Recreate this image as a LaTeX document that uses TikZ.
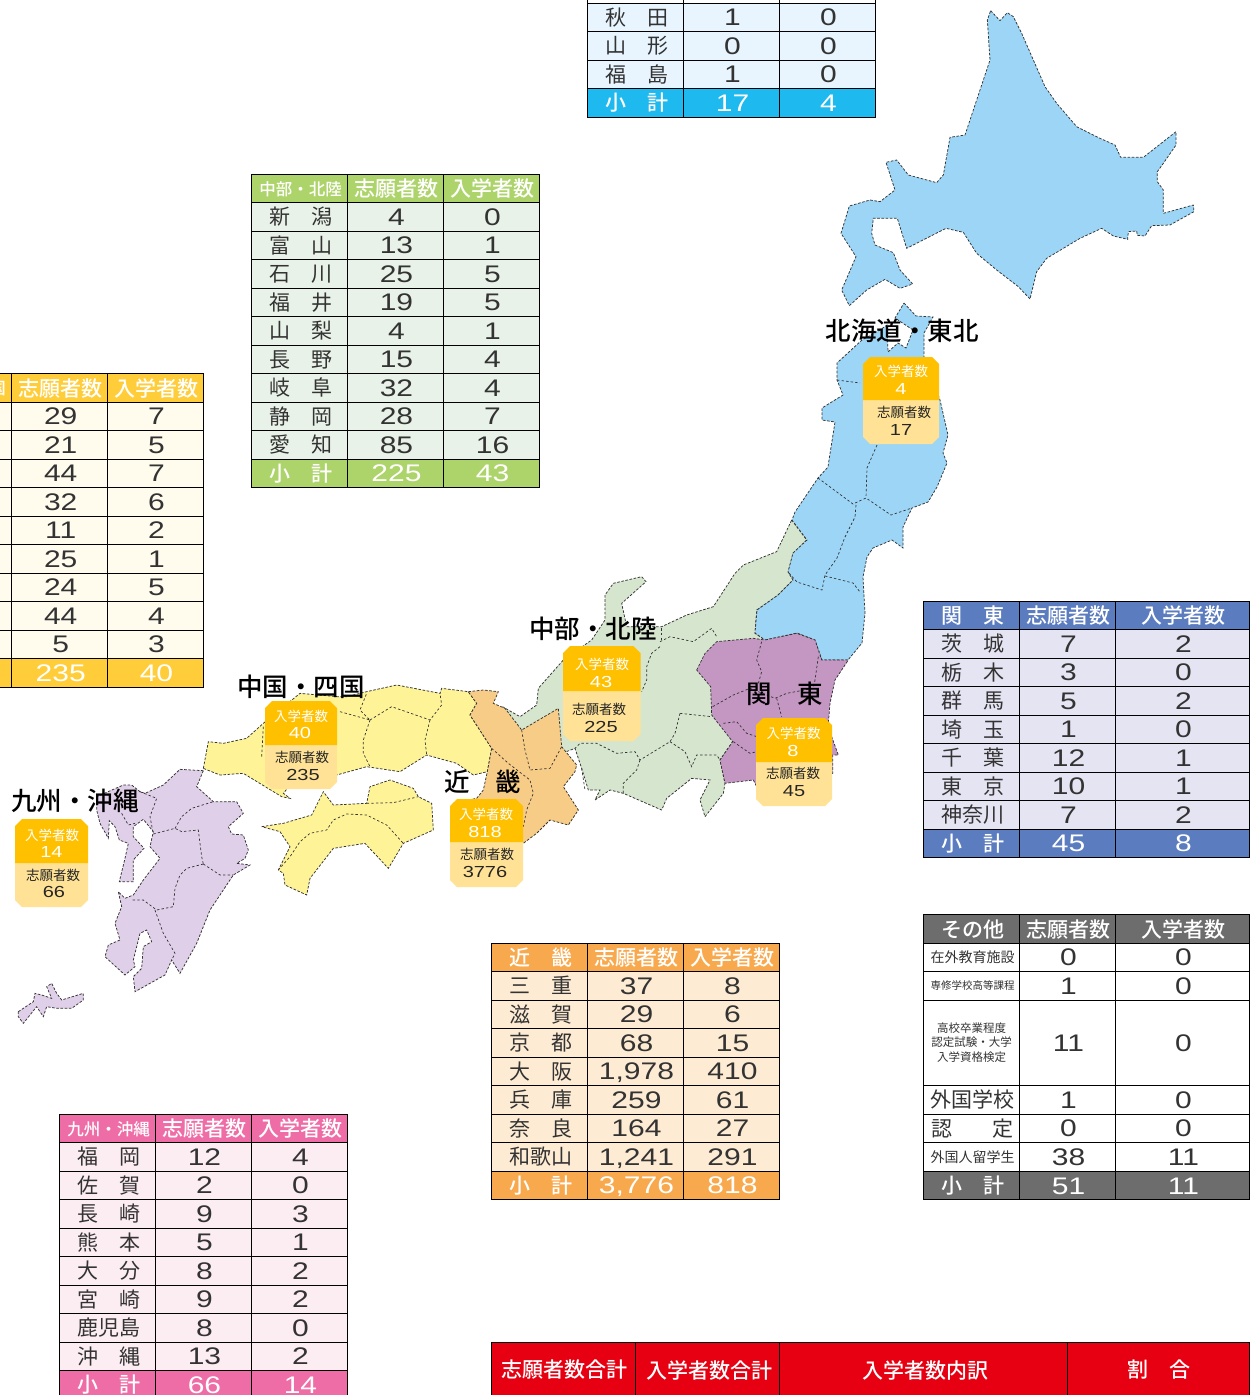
\documentclass[tikz,border=0pt]{standalone}
\usepackage{fontspec}
\setmainfont{Noto Sans CJK JP}
\newfontfamily\jp{Noto Sans CJK JP}
\newfontfamily\jpb[UprightFont={* Medium}]{Noto Sans CJK JP}
\newfontfamily\numf[FakeStretch=1.25]{Liberation Sans}
\newcommand\fs[1]{\fontsize{#1}{#1}\selectfont}
\definecolor{inkc}{HTML}{333333}
\definecolor{hokkc}{HTML}{9CD5F6}
\definecolor{chubc}{HTML}{D6E5CD}
\definecolor{kantc}{HTML}{C497C3}
\definecolor{kinkc}{HTML}{F7CC87}
\definecolor{chugc}{HTML}{FEF497}
\definecolor{kyusc}{HTML}{E0CFE8}
\definecolor{badgeT}{HTML}{FFC000}
\definecolor{badgeB}{HTML}{FFE295}
\definecolor{redc}{HTML}{E60012}
\tikzset{
  pref/.style={draw=black!80,line width=.75pt,dash pattern=on 2.6pt off 1.6pt},
  inner/.style={draw=black!80,line width=.7pt,dash pattern=on 2.4pt off 2.2pt},
  zone/.style={pref,fill=#1},
  zoomA/.style={shift={(780,0)},x=.33333pt,y=-.33333pt},
  zoomB/.style={shift={(520,440)},x=.33333pt,y=-.33333pt},
  zoomC/.style={shift={(200,660)},x=.33333pt,y=-.33333pt},
  zoomD/.style={shift={(0,760)},x=.33333pt,y=-.33333pt},
  grid/.style={draw=black,line width=.9pt},
  celltxt/.style={inner sep=0pt,anchor=center,xshift=1.5pt},
  labb/.style={celltxt,text=inkc,font=\jp\fs{21},text height=18.4pt,text depth=2.6pt},
  labh/.style={celltxt,text=white,font=\jpb\fs{21},text height=18.4pt,text depth=2.6pt,yshift=-.8pt},
  labt/.style={celltxt,text=white,font=\jpb\fs{21},text height=18.4pt,text depth=2.6pt},
  numb/.style={celltxt,text=inkc,font=\numf\fs{24},text height=17pt,text depth=0pt},
  numt/.style={celltxt,text=white,font=\numf\fs{24},text height=17pt,text depth=0pt},
  numh/.style={celltxt,text=white,font=\jpb\fs{21},text height=18.4pt,text depth=2.6pt,yshift=-.8pt},
  bigname/.style={inner sep=0pt,text=black,font=\jpb\fs{25.5}},
  badgeup/.style={inner sep=0pt,text=white,font=\jp\fs{13.5}},
  badgelo/.style={inner sep=0pt,text=black!85,font=\jp\fs{13.5}},
  badgeupn/.style={inner sep=0pt,text=white,font=\numf\fs{16}},
  badgelon/.style={inner sep=0pt,text=black!85,font=\numf\fs{16}},
  redlab/.style={inner sep=0pt,text=white,font=\jpb\fs{21}},
}
\newcommand\hsmall[1]{\raisebox{1.6pt}{\fs{16.5}#1}}
\newcommand\tgeom[6]{\def\Xa{#1}\def\Xb{#2}\def\Xc{#3}\def\Xd{#4}\def\colH{#5}\def\colB{#6}}
\def\kindb{b}
% name ytop ybot kind label a b
\newcommand\jrowat[7]{%
  \edef\kk{#4}%
  \ifx\kk\kindb\def\rowc{\colB}\else\def\rowc{\colH}\fi
  \path[grid,fill=\rowc] (\Xa,#2) rectangle (\Xb,#3) (\Xb,#2) rectangle (\Xc,#3) (\Xc,#2) rectangle (\Xd,#3);
  \node[lab#4] (#1l) at ({(\Xa+\Xb)/2},{(#2+#3)/2}) {#5};
  \node[num#4] (#1a) at ({(\Xb+\Xc)/2},{(#2+#3)/2}) {#6};
  \node[num#4] (#1b) at ({(\Xc+\Xd)/2},{(#2+#3)/2}) {#7};
}
% name ytop rows
\newcommand\jtbl[3]{%
  \foreach \L/\A/\B/\K [count=\i from 0] in {#3} {
    \pgfmathsetmacro\yt{#2+\i*28.5}
    \pgfmathsetmacro\yb{#2+\i*28.5+28.5}
    \jrowat{#1\i}{\yt}{\yb}{\K}{\L}{\A}{\B}
  }
}
\newcommand\badgeshape[5]{%
  \fill[badgeB] (#1,#4) -- (#2,#4) -- ({#2},{#5-7}) -- ({#2-7},#5) -- ({#1+7},#5) -- ({#1},{#5-7}) -- cycle;
  \fill[badgeT] (#1,#4) -- (#2,#4) -- ({#2},{#3+7}) -- ({#2-7},#3) -- ({#1+7},#3) -- ({#1},{#3+7}) -- cycle;
}
\begin{document}
\begin{tikzpicture}[x=1pt,y=-1pt]
\useasboundingbox (0,0) rectangle (1256,1395);
\clip (0,0) rectangle (1256,1395);

% ---------- map ----------
% Hokkaido
\begin{scope}[zoomA]
\path[zone=hokkc] (632,32)--(660,62)--(682,38)--(700,50)--(725,100)--(760,180)--(795,260)--(830,310)--(890,380)--(960,415)--(1005,435)--(1022,472)--(1090,472)--(1188,395)--(1188,435)--(1150,490)--(1132,515)--(1132,545)--(1150,570)--(1150,640)--(1240,615)--(1242,635)--(1170,675)--(1115,677)--(1095,708)--(1072,706)--(1070,693)--(1045,695)--(1043,718)--(1000,708)--(965,685)--(900,715)--(800,775)--(770,815)--(750,897)--(715,860)--(650,810)--(590,760)--(550,697)--(498,685)--(380,745)--(352,655)--(280,655)--(275,700)--(285,735)--(340,758)--(360,810)--(398,852)--(360,865)--(315,838)--(260,870)--(208,917)--(185,870)--(228,770)--(183,700)--(208,618)--(270,600)--(300,605)--(345,570)--(318,487)--(350,480)--(385,525)--(470,548)--(490,525)--(510,412)--(555,405)--(600,270)--(630,180)--(622,60)--cycle;
\end{scope}
% Chubu
\begin{scope}[zoomB]
\path[zone=chubc] (815,240)--(860,300)--(820,340)--(805,395)--(820,420)--(775,465)--(710,510)--(705,580)--(735,600)--(830,620)--(700,650)--(638,905)--(600,960)--(615,1030)--(610,1060)--(555,1130)--(540,1080)--(570,1020)--(515,1015)--(440,1075)--(425,1110)--(310,1060)--(270,1050)--(225,1080)--(240,1050)--(205,1050)--(185,985)--(165,925)--(100,950)--(-60,900)--(-51,801)--(0,830)--(50,795)--(55,745)--(130,660)--(215,600)--(255,540)--(255,465)--(280,430)--(365,410)--(378,425)--(305,490)--(320,560)--(425,560)--(500,525)--(580,500)--(645,400)--(670,375)--(770,335)--cycle;
\draw[inner] (425,565)--(425,605);
\draw[inner] (420,605)--(450,590)--(520,605)--(575,565)--(590,590);
\draw[inner] (420,620)--(395,640)--(380,680)--(380,720)--(365,755);
\draw[inner] (480,820)--(465,880)--(450,905)--(360,960)--(345,935)--(290,940)--(230,910)--(180,910)--(165,925);
\draw[inner] (480,820)--(575,830);
\draw[inner] (450,905)--(495,935)--(515,980)--(530,945)--(590,945)--(600,960);
\draw[inner] (360,960)--(350,990)--(310,1030)--(310,1060);
\draw[inner] (185,985)--(195,1050);
\end{scope}
% Tohoku
\path[zone=hokkc] (904,303)--(916,316)--(933,317)--(924,333)--(924,357)--(940,400)--(948,435)--(943,453)--(947,463)--(937,487)--(928,502)--(912,508)--(903,527)--(903,548)--(892,540)--(873,548)--(867,557)--(863,577)--(865,613)--(862,643)--(848,660)--(822,660)--(815,640)--(797,633)--(765,640)--(755,633)--(757,610)--(778,595)--(793,580)--(788,572)--(793,553)--(807,540)--(792,520)--(795,512)--(818,478)--(828,467)--(829,460)--(835,422)--(822,420)--(822,408)--(843,395)--(837,380)--(837,363)--(862,340)--(880,330)--(887,325)--(888,352)--(898,343)--(906,348)--(913,330)--(895,318)--cycle;
\draw[inner] (837,380)--(860,383);
\draw[inner] (877,445)--(867,468)--(866,498);
\draw[inner] (818,478)--(853,504)--(866,498)--(891,515)--(912,508);
\draw[inner] (856,505)--(855,517)--(845,537)--(837,558)--(825,575)--(822,590)--(797,582)--(788,572);
\draw[inner] (825,576)--(853,583)--(860,592);
% Kanto
\begin{scope}[zoomB]
\path[zone=kantc] (530,690)--(555,640)--(590,605)--(700,595)--(735,600)--(830,580)--(885,600)--(905,660)--(985,660)--(945,720)--(930,790)--(925,850)--(935,890)--(955,945)--(938,945)--(938,1000)--(710,1040)--(700,1020)--(615,1030)--(600,960)--(638,905)--(575,825)--(572,740)--cycle;
\draw[inner] (725,605)--(710,660)--(725,695)--(715,730);
\draw[inner] (578,800)--(640,765)--(690,745)--(765,775)--(800,760)--(880,745);
\draw[inner] (895,650)--(885,720)--(880,745);
\draw[inner] (770,775)--(785,830);
\draw[inner] (610,850)--(650,845)--(680,880)--(710,890);
\draw[inner] (640,905)--(690,940)--(710,935);
\end{scope}
% Chugoku
\begin{scope}[zoomC]
\path[zone=chugc] (10,325)--(25,245)--(70,250)--(140,235)--(190,190)--(300,100)--(412,110)--(440,110)--(500,95)--(590,75)--(720,100)--(725,85)--(805,95)--(830,130)--(810,165)--(875,265)--(862,335)--(820,345)--(770,310)--(680,285)--(600,335)--(500,320)--(410,345)--(300,340)--(250,400)--(270,415)--(245,410)--(130,340)--(60,345)--cycle;
\draw[inner] (420,155)--(510,180)--(480,150)--(500,100);
\draw[inner] (510,180)--(575,140)--(690,180)--(725,135)--(720,100);
\draw[inner] (510,180)--(490,240)--(490,280)--(510,320);
\draw[inner] (690,180)--(675,240)--(680,285);
\draw[inner] (190,200)--(185,290);
% Shikoku
\path[zone=chugc] (185,500)--(250,490)--(335,465)--(370,395)--(400,435)--(500,430)--(510,380)--(570,360)--(640,385)--(655,410)--(695,430)--(700,510)--(610,550)--(565,625)--(495,550)--(400,565)--(330,655)--(320,705)--(255,675)--(250,640)--(235,630)--(270,560)--(240,515)--cycle;
\draw[inner] (235,630)--(270,590)--(300,545)--(330,520)--(380,510)--(400,480)--(440,462)--(500,465)--(560,495)--(610,550);
\draw[inner] (500,430)--(580,428)--(655,410);
% Kinki
\path[zone=kinkc] (805,95)--(850,90)--(895,95)--(880,130)--(915,145)--(965,210)--(1050,160)--(1075,145)--(1085,260)--(1130,315)--(1125,335)--(1090,380)--(1135,450)--(1105,495)--(1050,480)--(1010,520)--(970,550)--(950,550)--(760,480)--(760,430)--(830,415)--(850,390)--(862,335)--(875,265)--(810,165)--(830,130)--cycle;
\draw[inner] (875,265)--(925,310)--(990,360)--(1000,400)--(980,450)--(970,500);
\draw[inner] (965,210)--(975,270)--(990,330)--(1050,325)--(1085,260);
\end{scope}
% Kyushu and Okinawa
\begin{scope}[zoomD]
\path[zone=kyusc] (610,32)--(590,80)--(640,125)--(710,125)--(730,160)--(685,200)--(695,222)--(730,225)--(745,270)--(735,295)--(710,310)--(750,315)--(700,345)--(630,450)--(590,550)--(540,640)--(515,600)--(495,645)--(405,695)--(400,650)--(425,625)--(430,560)--(455,545)--(440,510)--(420,520)--(400,600)--(405,620)--(375,645)--(315,590)--(325,555)--(360,540)--(345,490)--(365,440)--(355,395)--(375,415)--(400,405)--(430,360)--(480,295)--(450,260)--(460,215)--(430,178)--(400,200)--(400,230)--(432,265)--(400,300)--(400,365)--(358,365)--(375,295)--(385,250)--(358,240)--(345,200)--(328,182)--(325,235)--(300,190)--(290,150)--(290,110)--(370,75)--(395,75)--(420,95)--(435,100)--(490,75)--(540,28)--cycle;
\draw[inner] (420,95)--(470,115)--(450,170)--(460,222);
\draw[inner] (365,160)--(385,195)--(405,190);
\draw[inner] (460,222)--(525,205)--(545,215)--(595,210)--(605,290)--(610,312);
\draw[inner] (525,205)--(545,170)--(575,145)--(640,125);
\draw[inner] (610,312)--(560,325)--(540,345)--(525,385)--(520,440)--(470,450)--(430,420)--(395,420);
\draw[inner] (610,312)--(660,345)--(700,345);
\draw[inner] (465,450)--(490,520)--(525,580)--(515,600);
\path[zone=kyusc] (55,755)--(100,725)--(105,700)--(125,705)--(155,715)--(140,680)--(155,670)--(170,700)--(185,720)--(250,700)--(250,720)--(215,745)--(170,745)--(140,740)--(130,770)--(110,740)--(70,790)--(55,770)--cycle;
\end{scope}

% ---------- badges ----------
\badgeshape{863}{939}{357}{400}{444}
\node[badgeup] (b1a) at (901,371) {入学者数};
\node[badgeupn] (b1b) at (901,389) {4};
\node[badgelo] (b1c) at (904,412) {志願者数};
\node[badgelon] (b1d) at (901,430) {17};
\badgeshape{563}{640.5}{646}{691}{741}
\node[badgeup] (b2a) at (602,664) {入学者数};
\node[badgeupn] (b2b) at (601,682) {43};
\node[badgelo] (b2c) at (599,709) {志願者数};
\node[badgelon] (b2d) at (601,727) {225};
\badgeshape{756}{832}{718}{762}{806}
\node[badgeup] (b3a) at (793.5,733) {入学者数};
\node[badgeupn] (b3b) at (793,751) {8};
\node[badgelo] (b3c) at (793,773) {志願者数};
\node[badgelon] (b3d) at (794,791) {45};
\badgeshape{265}{337}{701}{745}{789}
\node[badgeup] (b4a) at (301,716) {入学者数};
\node[badgeupn] (b4b) at (300,733) {40};
\node[badgelo] (b4c) at (302,757) {志願者数};
\node[badgelon] (b4d) at (303,775) {235};
\badgeshape{450}{523}{799}{842}{887}
\node[badgeup] (b5a) at (486,814) {入学者数};
\node[badgeupn] (b5b) at (485,832) {818};
\node[badgelo] (b5c) at (487,854) {志願者数};
\node[badgelon] (b5d) at (485,872) {3776};
\badgeshape{15}{88}{819}{863}{907}
\node[badgeup] (b6a) at (52,835) {入学者数};
\node[badgeupn] (b6b) at (51.5,852) {14};
\node[badgelo] (b6c) at (53,875) {志願者数};
\node[badgelon] (b6d) at (54,892) {66};

% ---------- region names ----------
\node[bigname] (r1) at (902,330.5) {北海道・東北};
\node[bigname] (r2) at (593,628.5) {中部・北陸};
\node[bigname] (r3) at (785,693.5) {関　東};
\node[bigname] (r4) at (301,686.5) {中国・四国};
\node[bigname] (r5) at (483,781.5) {近　畿};
\node[bigname] (r6) at (75,800.5) {九州・沖縄};

% ---------- tables ----------
\definecolor{colh}{HTML}{1EB9EE}\definecolor{colb}{HTML}{E8F5FE}
\tgeom{587}{683}{779}{875}{colh}{colb}
\draw[grid] (\Xb,-2)--(\Xb,3) (\Xc,-2)--(\Xc,3) (\Xa,-2)--(\Xa,3) (\Xd,-2)--(\Xd,3);
\jtbl{toh}{3}{秋　田/1/0/b,山　形/0/0/b,福　島/1/0/b,小　計/17/4/t}

\definecolor{colh2}{HTML}{ADD46A}\definecolor{colb2}{HTML}{E9F2E8}
\tgeom{251}{347}{443}{539}{colh2}{colb2}
\jtbl{chb}{174}{\hsmall{中部・北陸}/志願者数/入学者数/h,新　潟/4/0/b,富　山/13/1/b,石　川/25/5/b,福　井/19/5/b,山　梨/4/1/b,長　野/15/4/b,岐　阜/32/4/b,静　岡/28/7/b,愛　知/85/16/b,小　計/225/43/t}

\definecolor{colh3}{HTML}{FFCD3A}\definecolor{colb3}{HTML}{FFFCEE}
\tgeom{-85}{11.5}{107}{203}{colh3}{colb3}
\jtbl{chg}{373.5}{\hsmall{中国・四国}/志願者数/入学者数/h,/29/7/b,/21/5/b,/44/7/b,/32/6/b,/11/2/b,/25/1/b,/24/5/b,/44/4/b,/5/3/b,小　計/235/40/t}

\definecolor{colh4}{HTML}{5B7CBF}\definecolor{colb4}{HTML}{E5E4F3}
\tgeom{923}{1019}{1115}{1249}{colh4}{colb4}
\jtbl{knt}{601}{関　東/志願者数/入学者数/h,茨　城/7/2/b,栃　木/3/0/b,群　馬/5/2/b,埼　玉/1/0/b,千　葉/12/1/b,東　京/10/1/b,神奈川/7/2/b,小　計/45/8/t}

\definecolor{colh5}{HTML}{6D6D6D}\definecolor{colb5}{HTML}{FFFFFF}
\tgeom{923}{1019}{1115}{1249}{colh5}{colb5}
\jrowat{oth0}{914.5}{943}{h}{その他}{志願者数}{入学者数}
\jrowat{oth1}{943}{971.5}{b}{\raisebox{2.6pt}{\fs{14}在外教育施設}}{0}{0}
\jrowat{oth2}{971.5}{1000}{b}{\raisebox{3.9pt}{\fs{10.5}専修学校高等課程}}{1}{0}
\jrowat{oth3}{1000}{1085.5}{b}{}{11}{0}
\node[inner sep=0pt,align=center,text=inkc,font=\jp\fs{11.5}] (oth3t) at (971.5,1042.5) {高校卒業程度\\[3pt]認定試験・大学\\[3pt]入学資格検定};
\jrowat{oth4}{1085.5}{1114}{b}{外国学校}{1}{0}
\jrowat{oth5}{1114}{1142.7}{b}{認\hspace{1.9em}定}{0}{0}
\jrowat{oth6}{1142.7}{1171.5}{b}{\raisebox{2.6pt}{\fs{14}外国人留学生}}{38}{11}
\jrowat{oth7}{1171.5}{1199.5}{t}{小　計}{51}{11}

\definecolor{colh6}{HTML}{F9A94D}\definecolor{colb6}{HTML}{FDEBD3}
\tgeom{491}{587}{683}{779}{colh6}{colb6}
\jtbl{kin}{943}{近　畿/志願者数/入学者数/h,三　重/37/8/b,滋　賀/29/6/b,京　都/68/15/b,大　阪/{1,978}/410/b,兵　庫/259/61/b,奈　良/164/27/b,和歌山/{1,241}/291/b,小　計/{3,776}/818/t}

\definecolor{colh7}{HTML}{EF6DA6}\definecolor{colb7}{HTML}{FCEDF3}
\tgeom{59}{155}{251}{347}{colh7}{colb7}
\jtbl{kyu}{1114}{\hsmall{九州・沖縄}/志願者数/入学者数/h,福　岡/12/4/b,佐　賀/2/0/b,長　崎/9/3/b,熊　本/5/1/b,大　分/8/2/b,宮　崎/9/2/b,鹿児島/8/0/b,沖　縄/13/2/b,小　計/66/14/t}

% red header row
\path[grid,fill=redc] (491,1342.5) rectangle (635.5,1400) (635.5,1342.5) rectangle (779.5,1400) (779.5,1342.5) rectangle (1067.5,1400) (1067.5,1342.5) rectangle (1249,1400);
\node[redlab] (t1) at (564,1370) {志願者数合計};
\node[redlab] (t2) at (709,1370) {入学者数合計};
\node[redlab] (t3) at (925,1370) {入学者数内訳};
\node[redlab] (t4) at (1159,1370) {割　合};
\end{tikzpicture}
\end{document}
